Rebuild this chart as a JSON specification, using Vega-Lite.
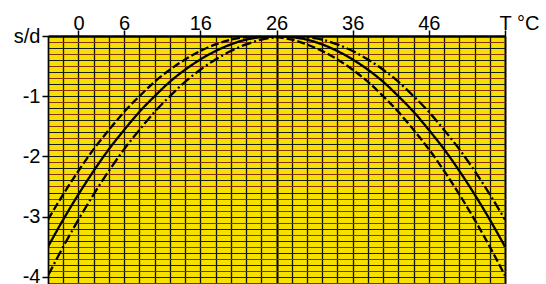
{
  "$schema": "https://vega.github.io/schema/vega-lite/v6.json",
  "width": 457,
  "height": 248,
  "autosize": {"type": "none"},
  "padding": {"left": 48, "top": 36, "right": 41, "bottom": 0},
  "background": "white",
  "config": {"view": {"fill": "#f5e000", "stroke": null}, "font": "Liberation Sans"},
  "data": {"values": [
    {"curve":"solid","T":-4,"s":-3.5},{"curve":"solid","T":-2,"s":-3.05},{"curve":"solid","T":0,"s":-2.63},{"curve":"solid","T":2,"s":-2.24},{"curve":"solid","T":4,"s":-1.88},{"curve":"solid","T":6,"s":-1.56},{"curve":"solid","T":8,"s":-1.26},{"curve":"solid","T":10,"s":-1.0},{"curve":"solid","T":12,"s":-0.76},{"curve":"solid","T":14,"s":-0.56},{"curve":"solid","T":16,"s":-0.39},{"curve":"solid","T":18,"s":-0.25},{"curve":"solid","T":20,"s":-0.14},{"curve":"solid","T":22,"s":-0.06},{"curve":"solid","T":24,"s":-0.02},{"curve":"solid","T":26,"s":0},{"curve":"solid","T":28,"s":-0.02},{"curve":"solid","T":30,"s":-0.06},{"curve":"solid","T":32,"s":-0.14},{"curve":"solid","T":34,"s":-0.25},{"curve":"solid","T":36,"s":-0.39},{"curve":"solid","T":38,"s":-0.56},{"curve":"solid","T":40,"s":-0.76},{"curve":"solid","T":42,"s":-1.0},{"curve":"solid","T":44,"s":-1.26},{"curve":"solid","T":46,"s":-1.56},{"curve":"solid","T":48,"s":-1.88},{"curve":"solid","T":50,"s":-2.24},{"curve":"solid","T":52,"s":-2.63},{"curve":"solid","T":54,"s":-3.05},{"curve":"solid","T":56,"s":-3.5},
    {"curve":"dashed","T":-4,"s":-3.05},{"curve":"dashed","T":-2,"s":-2.63},{"curve":"dashed","T":0,"s":-2.24},{"curve":"dashed","T":2,"s":-1.88},{"curve":"dashed","T":4,"s":-1.56},{"curve":"dashed","T":6,"s":-1.26},{"curve":"dashed","T":8,"s":-1.0},{"curve":"dashed","T":10,"s":-0.76},{"curve":"dashed","T":12,"s":-0.56},{"curve":"dashed","T":14,"s":-0.39},{"curve":"dashed","T":16,"s":-0.25},{"curve":"dashed","T":18,"s":-0.14},{"curve":"dashed","T":20,"s":-0.06},{"curve":"dashed","T":22,"s":-0.02},{"curve":"dashed","T":24,"s":0},{"curve":"dashed","T":26,"s":-0.02},{"curve":"dashed","T":28,"s":-0.06},{"curve":"dashed","T":30,"s":-0.14},{"curve":"dashed","T":32,"s":-0.25},{"curve":"dashed","T":34,"s":-0.39},{"curve":"dashed","T":36,"s":-0.56},{"curve":"dashed","T":38,"s":-0.76},{"curve":"dashed","T":40,"s":-1.0},{"curve":"dashed","T":42,"s":-1.26},{"curve":"dashed","T":44,"s":-1.56},{"curve":"dashed","T":46,"s":-1.88},{"curve":"dashed","T":48,"s":-2.24},{"curve":"dashed","T":50,"s":-2.63},{"curve":"dashed","T":52,"s":-3.05},{"curve":"dashed","T":54,"s":-3.5},{"curve":"dashed","T":56,"s":-3.98},
    {"curve":"dashdot","T":-4,"s":-3.98},{"curve":"dashdot","T":-2,"s":-3.5},{"curve":"dashdot","T":0,"s":-3.05},{"curve":"dashdot","T":2,"s":-2.63},{"curve":"dashdot","T":4,"s":-2.24},{"curve":"dashdot","T":6,"s":-1.88},{"curve":"dashdot","T":8,"s":-1.56},{"curve":"dashdot","T":10,"s":-1.26},{"curve":"dashdot","T":12,"s":-1.0},{"curve":"dashdot","T":14,"s":-0.76},{"curve":"dashdot","T":16,"s":-0.56},{"curve":"dashdot","T":18,"s":-0.39},{"curve":"dashdot","T":20,"s":-0.25},{"curve":"dashdot","T":22,"s":-0.14},{"curve":"dashdot","T":24,"s":-0.06},{"curve":"dashdot","T":26,"s":-0.02},{"curve":"dashdot","T":28,"s":0},{"curve":"dashdot","T":30,"s":-0.02},{"curve":"dashdot","T":32,"s":-0.06},{"curve":"dashdot","T":34,"s":-0.14},{"curve":"dashdot","T":36,"s":-0.25},{"curve":"dashdot","T":38,"s":-0.39},{"curve":"dashdot","T":40,"s":-0.56},{"curve":"dashdot","T":42,"s":-0.76},{"curve":"dashdot","T":44,"s":-1.0},{"curve":"dashdot","T":46,"s":-1.26},{"curve":"dashdot","T":48,"s":-1.56},{"curve":"dashdot","T":50,"s":-1.88},{"curve":"dashdot","T":52,"s":-2.24},{"curve":"dashdot","T":54,"s":-2.63},{"curve":"dashdot","T":56,"s":-3.05}
  ]},
  "mark": {"type": "line", "clip": true, "interpolate": "monotone", "strokeWidth": 2.3, "color": "black"},
  "encoding": {
    "x": {
      "field": "T", "type": "quantitative",
      "scale": {"domain": [-4, 56], "nice": false, "zero": false},
      "axis": {
        "orient": "top", "title": null,
        "values": [-4,-2,0,2,4,6,8,10,12,14,16,18,20,22,24,26,28,30,32,34,36,38,40,42,44,46,48,50,52,54,56],
        "grid": true,
        "gridColor": {"condition": {"test": "datum.value == 26 || datum.value == 56", "value": "#000000"}, "value": "#141414"},
        "gridWidth": {"condition": {"test": "datum.value == 26 || datum.value == 56", "value": 2}, "value": 1.3},
        "gridOpacity": 1,
        "labelExpr": "indexof([0,6,16,26,36,46], datum.value) >= 0 ? datum.label : (datum.value == 56 ? 'T °C' : '')",
        "tickOpacity": {"condition": {"test": "indexof([0,6,16,26,36,46,56], datum.value) >= 0", "value": 1}, "value": 0},
        "tickColor": "black", "tickSize": 6, "tickWidth": 1.5,
        "labelFontSize": 20, "labelColor": "black", "labelPadding": 1, "labelBaseline": "alphabetic",
        "labelAlign": {"condition": {"test": "datum.value == 56", "value": "left"}, "value": "center"},
        "labelOffset": {"condition": {"test": "datum.value == 56", "value": -6}, "value": 0},
        "labelOverlap": false, "labelFlush": false, "labelBound": false,
        "domainColor": "black", "domainWidth": 2.5
      }
    },
    "y": {
      "field": "s", "type": "quantitative",
      "scale": {"domain": [-4.12, 0], "nice": false, "zero": false},
      "axis": {
        "orient": "left", "title": null,
        "values": [0,-0.1,-0.2,-0.3,-0.4,-0.5,-0.6,-0.7,-0.8,-0.9,-1,-1.1,-1.2,-1.3,-1.4,-1.5,-1.6,-1.7,-1.8,-1.9,-2,-2.1,-2.2,-2.3,-2.4,-2.5,-2.6,-2.7,-2.8,-2.9,-3,-3.1,-3.2,-3.3,-3.4,-3.5,-3.6,-3.7,-3.8,-3.9,-4,-4.1],
        "grid": true,
        "gridColor": {"condition": {"test": "abs(datum.value*5 - round(datum.value*5)) < 0.01", "value": "#1a1a1a"}, "value": "#8a3010"},
        "gridWidth": 1.1, "gridOpacity": 1,
        "labelExpr": "abs(datum.value - round(datum.value)) < 0.01 ? (datum.value == 0 ? 's/d' : '' + round(datum.value)) : ''",
        "tickOpacity": {"condition": {"test": "abs(datum.value - round(datum.value)) < 0.01", "value": 1}, "value": 0},
        "tickColor": "black", "tickSize": 6, "tickWidth": 1.5,
        "labelFontSize": 20, "labelColor": "black", "labelPadding": 2,
        "labelOverlap": false, "labelFlush": false, "labelBound": false,
        "domainColor": "black", "domainWidth": 1.5
      }
    },
    "strokeDash": {
      "field": "curve", "type": "nominal",
      "scale": {"domain": ["dashed", "solid", "dashdot"], "range": [[8, 3], [1, 0], [10, 3, 2, 3]]},
      "legend": null
    }
  }
}
